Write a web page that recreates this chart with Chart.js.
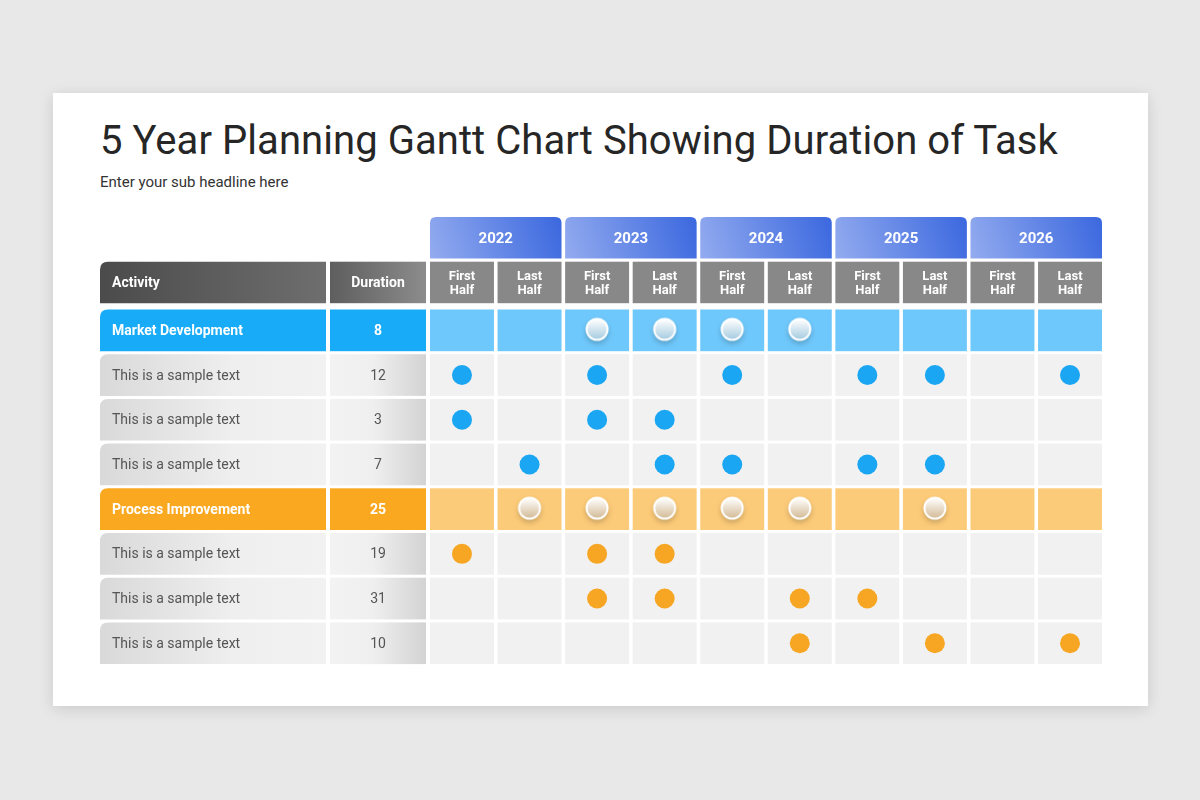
<!DOCTYPE html>
<html>
<head>
<meta charset="utf-8">
<title>5 Year Planning Gantt Chart</title>
<script src="https://cdn.jsdelivr.net/npm/chart.js@4.4.1/dist/chart.umd.min.js"></script>
<style>
  html, body { margin: 0; padding: 0; }
  body { width: 1200px; height: 800px; background: #e9e8e9; position: relative; overflow: hidden; font-family: Roboto, "Noto Sans", sans-serif; }
  .card { position: absolute; left: 53px; top: 93px; width: 1095px; height: 613px; background: #fff; box-shadow: 0 3px 14px rgba(0,0,0,0.13); }
  .title { position: absolute; left: 47px; top: 24px; font-size: 40px; color: #262626; white-space: nowrap; letter-spacing: 0.06px; }
  .sub { position: absolute; left: 47px; top: 80px; font-size: 15px; color: #333; }
  #gantt { position: absolute; left: 0; top: 0; }
</style>
</head>
<body>
<div class="card">
  <div class="title">5 Year Planning Gantt Chart Showing Duration of Task</div>
  <div class="sub">Enter your sub headline here</div>
</div>
<canvas id="gantt" width="1200" height="800"></canvas>
<script>
// data
const years = ['2022', '2023', '2024', '2025', '2026'];
const halves = ['First Half', 'Last Half'];
const activities = [
    'Market Development',
    'This is a sample text',
    'This is a sample text',
    'This is a sample text',
    'Process Improvement',
    'This is a sample text',
    'This is a sample text',
    'This is a sample text'
];
const durations = [8, 12, 3, 7, 25, 19, 31, 10];
const groupOf = [0, 0, 0, 0, 1, 1, 1, 1];      // 0 = blue group, 1 = orange group
const isGroupRow = [true, false, false, false, true, false, false, false];
// marked half-year columns per row (0 = 2022 First Half ... 9 = 2026 Last Half)
const marks = [
    [2, 3, 4, 5],
    [0, 2, 4, 6, 7, 9],
    [0, 2, 3],
    [1, 3, 4, 6, 7],
    [1, 2, 3, 4, 5, 7],
    [0, 2, 3],
    [2, 3, 5, 6],
    [5, 7, 9]
];

// styles
const groupColors = [
    { main: '#18abf8', light: '#6fc8fb', dot: '#1aa6f2', dotShade: '#9cc6de' },
    { main: '#faa81f', light: '#fccb79', dot: '#f6a623', dotShade: '#cfb48c' }
];
const ACT_LEFT = 100, ACT_RIGHT = 326, DUR_LEFT = 330, DUR_RIGHT = 426;
const GAP_X = 3.6, GAP_Y = 3;
const HEAD_TOP = -3.1, HEAD_GAP = 6.3;   // header rows sit a little higher than the body grid
const FONT = 'Roboto, "Noto Sans", sans-serif';

function roundRect(ctx, x, y, w, h, r) {
    // r = [tl, tr, br, bl]
    ctx.beginPath();
    ctx.moveTo(x + r[0], y);
    ctx.lineTo(x + w - r[1], y);
    ctx.quadraticCurveTo(x + w, y, x + w, y + r[1]);
    ctx.lineTo(x + w, y + h - r[2]);
    ctx.quadraticCurveTo(x + w, y + h, x + w - r[2], y + h);
    ctx.lineTo(x + r[3], y + h);
    ctx.quadraticCurveTo(x, y + h, x, y + h - r[3]);
    ctx.lineTo(x, y + r[0]);
    ctx.quadraticCurveTo(x, y, x + r[0], y);
    ctx.closePath();
}

// white glossy dot used on group rows
function makeGlossDot(shade) {
    const c = document.createElement('canvas');
    c.width = 36; c.height = 36;
    const g = c.getContext('2d');
    g.shadowColor = 'rgba(0,0,0,0.28)';
    g.shadowBlur = 6;
    g.shadowOffsetY = 3;
    const grad = g.createLinearGradient(0, 7, 0, 29);
    grad.addColorStop(0, '#ffffff');
    grad.addColorStop(1, shade);
    g.beginPath();
    g.arc(18, 17, 10.5, 0, Math.PI * 2);
    g.fillStyle = grad;
    g.fill();
    g.shadowColor = 'transparent';
    g.lineWidth = 2;
    g.strokeStyle = '#ffffff';
    g.stroke();
    return c;
}

const gridPlugin = {
    id: 'ganttGrid',
    beforeDatasetsDraw(chart) {
        const ctx = chart.ctx;
        const x = chart.scales.x, y = chart.scales.y;
        ctx.save();

        const cellX = i => [x.getPixelForValue(i), x.getPixelForValue(i + 1) - GAP_X];
        const cellY = j => [y.getPixelForValue(j), y.getPixelForValue(j + 1) - GAP_Y];
        const headY = j => [y.getPixelForValue(j) + HEAD_TOP, y.getPixelForValue(j + 1) - HEAD_GAP];

        // year header (row -2)
        const [yy0, yy1] = headY(-2);
        years.forEach((yr, k) => {
            const x0 = x.getPixelForValue(k * 2);
            const x1 = x.getPixelForValue(k * 2 + 2) - GAP_X;
            const grad = ctx.createLinearGradient(x0, yy1, x1, yy0);
            grad.addColorStop(0, '#93abef');
            grad.addColorStop(1, '#3b68df');
            ctx.fillStyle = grad;
            roundRect(ctx, x0, yy0, x1 - x0, yy1 - yy0, [6, 6, 0, 0]);
            ctx.fill();
            ctx.fillStyle = '#fff';
            ctx.font = 'bold 15px ' + FONT;
            ctx.textAlign = 'center';
            ctx.textBaseline = 'middle';
            ctx.fillText(yr, (x0 + x1) / 2, (yy0 + yy1) / 2 + 1);
        });

        // column header (row -1)
        const [hy0, hy1] = headY(-1);
        let grad = ctx.createLinearGradient(ACT_LEFT, 0, ACT_RIGHT, 0);
        grad.addColorStop(0, '#4b4b4b');
        grad.addColorStop(1, '#6e6e6e');
        ctx.fillStyle = grad;
        roundRect(ctx, ACT_LEFT, hy0, ACT_RIGHT - ACT_LEFT, hy1 - hy0, [8, 0, 0, 0]);
        ctx.fill();
        grad = ctx.createLinearGradient(DUR_LEFT, 0, DUR_RIGHT, 0);
        grad.addColorStop(0, '#5e5e5e');
        grad.addColorStop(1, '#8c8c8c');
        ctx.fillStyle = grad;
        ctx.fillRect(DUR_LEFT, hy0, DUR_RIGHT - DUR_LEFT, hy1 - hy0);
        ctx.fillStyle = '#fff';
        ctx.font = 'bold 14px ' + FONT;
        ctx.textBaseline = 'middle';
        ctx.textAlign = 'left';
        ctx.fillText('Activity', ACT_LEFT + 12, (hy0 + hy1) / 2 + 1);
        ctx.textAlign = 'center';
        ctx.fillText('Duration', (DUR_LEFT + DUR_RIGHT) / 2, (hy0 + hy1) / 2 + 1);
        for (let i = 0; i < years.length * halves.length; i++) {
            const [x0, x1] = cellX(i);
            ctx.fillStyle = '#888888';
            ctx.fillRect(x0, hy0, x1 - x0, hy1 - hy0);
            const words = halves[i % 2].split(' ');
            ctx.fillStyle = '#fff';
            ctx.font = 'bold 13px ' + FONT;
            ctx.fillText(words[0], (x0 + x1) / 2, (hy0 + hy1) / 2 - 6);
            ctx.fillText(words[1], (x0 + x1) / 2, (hy0 + hy1) / 2 + 8);
        }

        // body rows
        activities.forEach((name, j) => {
            const [y0, y1] = cellY(j);
            const col = groupColors[groupOf[j]];
            const cy = (y0 + y1) / 2 + 1;
            if (isGroupRow[j]) {
                ctx.fillStyle = col.main;
                roundRect(ctx, ACT_LEFT, y0, ACT_RIGHT - ACT_LEFT, y1 - y0, [8, 0, 0, 0]);
                ctx.fill();
                ctx.fillRect(DUR_LEFT, y0, DUR_RIGHT - DUR_LEFT, y1 - y0);
                ctx.fillStyle = '#fff';
                ctx.font = 'bold 14px ' + FONT;
            } else {
                let g = ctx.createLinearGradient(ACT_LEFT, 0, ACT_RIGHT, 0);
                g.addColorStop(0, '#d9d9d9');
                g.addColorStop(0.6, '#efefef');
                g.addColorStop(1, '#f2f2f2');
                ctx.fillStyle = g;
                roundRect(ctx, ACT_LEFT, y0, ACT_RIGHT - ACT_LEFT, y1 - y0, [8, 0, 0, 0]);
                ctx.fill();
                g = ctx.createLinearGradient(DUR_LEFT, 0, DUR_RIGHT, 0);
                g.addColorStop(0, '#f3f3f3');
                g.addColorStop(0.45, '#efefef');
                g.addColorStop(1, '#d3d3d3');
                ctx.fillStyle = g;
                ctx.fillRect(DUR_LEFT, y0, DUR_RIGHT - DUR_LEFT, y1 - y0);
                ctx.fillStyle = '#555';
                ctx.font = '14px ' + FONT;
            }
            ctx.textAlign = 'left';
            ctx.fillText(name, ACT_LEFT + 12, cy);
            ctx.textAlign = 'center';
            ctx.fillText(String(durations[j]), (DUR_LEFT + DUR_RIGHT) / 2, cy);

            for (let i = 0; i < years.length * halves.length; i++) {
                const [x0, x1] = cellX(i);
                ctx.fillStyle = isGroupRow[j] ? col.light : '#f1f1f1';
                ctx.fillRect(x0, y0, x1 - x0, y1 - y0);
            }
        });
        ctx.restore();
    }
};

// build datasets from the marks: one point per marked half-year cell
function pointsFor(filter) {
    const pts = [];
    marks.forEach((cols, j) => {
        if (!filter(j)) return;
        cols.forEach(i => pts.push({ x: i + 0.5, y: j + 0.5 }));
    });
    return pts;
}

const datasets = [
    {
        label: 'Market Development',
        data: pointsFor(j => isGroupRow[j] && groupOf[j] === 0),
        pointStyle: makeGlossDot(groupColors[0].dotShade)
    },
    {
        label: 'Process Improvement',
        data: pointsFor(j => isGroupRow[j] && groupOf[j] === 1),
        pointStyle: makeGlossDot(groupColors[1].dotShade)
    },
    {
        label: 'Blue tasks',
        data: pointsFor(j => !isGroupRow[j] && groupOf[j] === 0),
        pointStyle: 'circle',
        pointRadius: 10,
        backgroundColor: groupColors[0].dot,
        borderColor: groupColors[0].dot,
        borderWidth: 0
    },
    {
        label: 'Orange tasks',
        data: pointsFor(j => !isGroupRow[j] && groupOf[j] === 1),
        pointStyle: 'circle',
        pointRadius: 10,
        backgroundColor: groupColors[1].dot,
        borderColor: groupColors[1].dot,
        borderWidth: 0
    }
];

// nudge points by half the cell gap so they sit in the middle of the visible cell
const gapShiftPlugin = {
    id: 'gapShift',
    afterDatasetsUpdate(chart) {
        chart.data.datasets.forEach((ds, k) => {
            chart.getDatasetMeta(k).data.forEach(pt => {
                pt.x -= GAP_X / 2;
                pt.y -= GAP_Y / 2;
            });
        });
    }
};

new Chart(document.getElementById('gantt').getContext('2d'), {
    type: 'scatter',
    data: { datasets: datasets },
    options: {
        responsive: false,
        animation: false,
        layout: { padding: { left: 430, right: 94.4, top: 309.5, bottom: 132.9 } },
        scales: {
            x: { type: 'linear', min: 0, max: years.length * halves.length, display: false },
            y: { type: 'linear', min: 0, max: activities.length, reverse: true, display: false }
        },
        plugins: {
            legend: { display: false },
            tooltip: { enabled: false }
        }
    },
    plugins: [gridPlugin, gapShiftPlugin]
});
</script>
</body>
</html>
